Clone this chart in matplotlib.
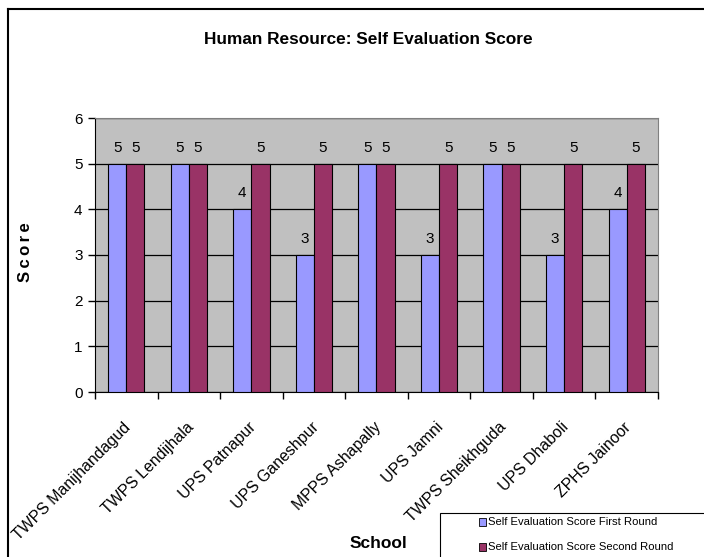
import matplotlib
matplotlib.use("Agg")
import matplotlib.pyplot as plt
import numpy as np
from matplotlib.patches import Rectangle
from matplotlib.lines import Line2D

schools = ["TWPS Manijhandagud", "TWPS Lendijhala", "UPS Patnapur", "UPS Ganeshpur",
           "MPPS Ashapally", "UPS Jamni", "TWPS Sheikhguda", "UPS Dhaboli", "ZPHS Jainoor"]
first_round = [5, 5, 4, 3, 5, 3, 5, 3, 4]
second_round = [5, 5, 5, 5, 5, 5, 5, 5, 5]
series_names = ["Self Evaluation Score First Round", "Self Evaluation Score Second Round"]
yticks = [0, 1, 2, 3, 4, 5, 6]

W, H = 704, 557
fig = plt.figure(figsize=(W / 100, H / 100), dpi=100)
fig.patch.set_facecolor("white")
plt.rcParams['font.family'] = ['Liberation Sans', 'DejaVu Sans']

# outer chart border (left and top visible)
fig.add_artist(Line2D([8 / W, 8 / W], [0, 1 - 9 / H], transform=fig.transFigure, color="black", lw=1.5))
fig.add_artist(Line2D([8 / W, 1], [1 - 9 / H, 1 - 9 / H], transform=fig.transFigure, color="black", lw=1.5))

ax = fig.add_axes([95 / W, 1 - 392 / H, (658 - 95) / W, (392 - 118) / H])
ax.set_facecolor("#C0C0C0")
x = np.arange(len(schools))
bw = 0.29
b1 = ax.bar(x - bw / 2, first_round, bw, color="#9999FF", edgecolor="black", lw=0.8, zorder=3)
b2 = ax.bar(x + bw / 2, second_round, bw, color="#993366", edgecolor="black", lw=0.8, zorder=3)
for rects, vals in ((b1, first_round), (b2, second_round)):
    for r, v in zip(rects, vals):
        ax.text(r.get_x() + r.get_width() / 2, v + 0.2, str(v), ha="center", va="bottom", fontsize=11)

ax.set_xlim(-0.5, len(schools) - 0.5)
ax.set_ylim(0, 6)
ax.set_yticks(yticks)
ax.set_yticklabels([str(t) for t in yticks], fontsize=11)
ax.yaxis.grid(True, color="black", lw=0.9, zorder=1)
ax.set_axisbelow(True)
ax.set_xticks(np.arange(len(schools) + 1) - 0.5, minor=False)
ax.set_xticklabels([])
ax.tick_params(axis="x", length=5, direction="out", width=1)
ax.tick_params(axis="y", length=5, direction="out", width=1, pad=4)
for s in ("top", "right"):
    ax.spines[s].set_color("#808080")
for s in ("left", "bottom"):
    ax.spines[s].set_color("black")

for i, name in enumerate(schools):
    ax.text(i - 0.05, -0.6, name, rotation=45, ha="right", va="top", fontsize=11.4,
            rotation_mode="anchor")

fig.text(378 / W, 1 - 543 / H, "School", ha="center", va="center", fontsize=12.5, fontweight="bold")
fig.text(25 / W, 1 - 252 / H, "S\u2009c\u2009o\u2009r\u2009e", ha="center", va="center", fontsize=12,
         fontweight="bold", rotation=90)
fig.text(368 / W, 1 - 40 / H, "Human Resource: Self Evaluation Score", ha="center", va="center",
         fontsize=12.4, fontweight="bold")

# legend box
fig.add_artist(Rectangle((440 / W, -0.05), 1.0, 1 - 513 / H + 0.05, transform=fig.transFigure,
                         facecolor="white", edgecolor="black", lw=0.8))
for j, (name, col) in enumerate(zip(series_names, ["#9999FF", "#993366"])):
    yy = 1 - (522 + 25 * j) / H
    fig.add_artist(Rectangle((479 / W, yy - 4 / H), 7 / W, 8 / H, transform=fig.transFigure,
                             facecolor=col, edgecolor="black", lw=0.6))
    fig.text(488 / W, yy, name, ha="left", va="center", fontsize=8.1)

fig.savefig("out.png", dpi=100)
